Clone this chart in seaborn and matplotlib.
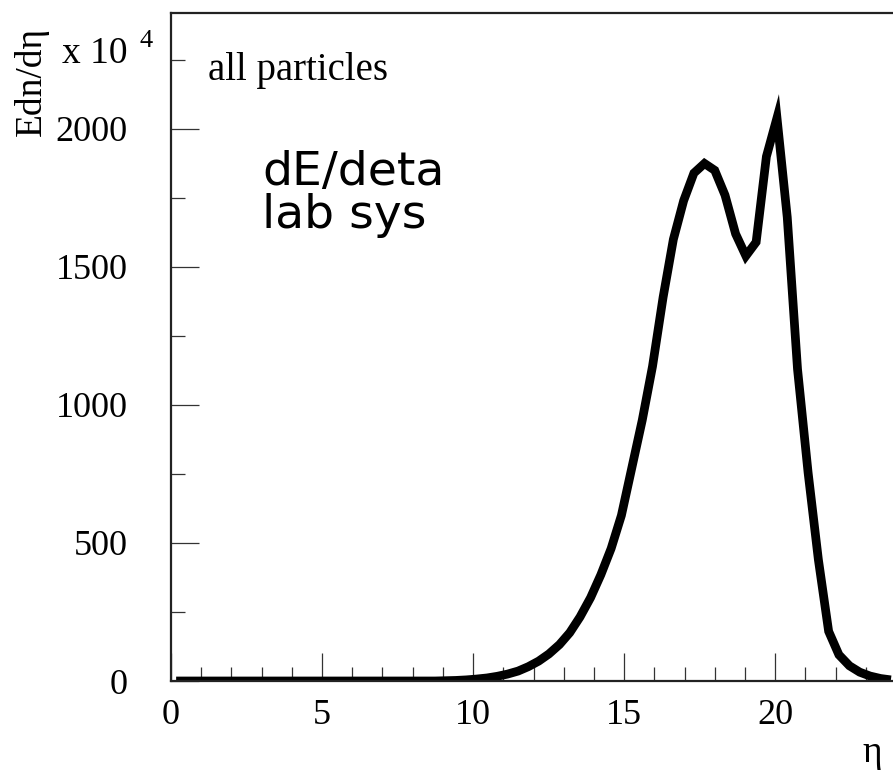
import numpy as np
import pandas as pd
import matplotlib
matplotlib.use("Agg")
import matplotlib.pyplot as plt
import seaborn as sns

# Energy-weighted pseudorapidity distribution, all particles (values in units of 10^4)
eta = [0.17, 8.74, 9.09, 9.43, 9.77, 10.11, 10.46, 10.80, 11.14, 11.49, 11.83,
       12.17, 12.51, 12.86, 13.20, 13.54, 13.89, 14.23, 14.57, 14.91, 15.26,
       15.60, 15.94, 16.29, 16.63, 16.97, 17.31, 17.66, 18.00, 18.34, 18.69,
       19.03, 19.37, 19.71, 20.06, 20.40, 20.74, 21.09, 21.43, 21.77, 22.11,
       22.46, 22.80, 23.14, 23.49, 23.83]
edn_deta = [0, 0, 1, 2, 4, 7, 11, 17, 25, 36, 52,
            72, 98, 132, 175, 232, 302, 385, 480, 600, 775,
            945, 1140, 1390, 1600, 1740, 1840, 1875, 1850, 1760, 1620,
            1540, 1590, 1900, 2040, 1680, 1130, 755, 440, 180, 95,
            55, 32, 18, 9, 4]

x_major = [0, 5, 10, 15, 20]
y_major = [0, 500, 1000, 1500, 2000]

df = pd.DataFrame({"eta": eta, "Edn": edn_deta})

sns.set_style("ticks")
plt.rcParams["font.family"] = ["Liberation Serif", "DejaVu Serif"]
plt.rcParams["text.color"] = "black"

W, H = 893, 775
fig = plt.figure(figsize=(W / 100, H / 100), dpi=100)
ax = fig.add_axes([171 / W, 94 / H, (896 - 171) / W, (681 - 13) / H])

sns.lineplot(data=df, x="eta", y="Edn", ax=ax, color="black", linewidth=6.3,
             solid_joinstyle="miter", solid_capstyle="butt", zorder=2)

ax.set_xlim(0, 24)
ax.set_ylim(0, 2420)
ax.set_xticks(x_major)
ax.set_xticks(np.arange(0, 25, 1), minor=True)
ax.set_yticks(y_major)
ax.set_yticks(np.arange(0, 2420, 250), minor=True)
ax.set_xticklabels([str(v) for v in x_major])
ax.set_yticklabels([str(v) for v in y_major])
ax.set_xlabel("")
ax.set_ylabel("")

ax.tick_params(axis="both", which="both", direction="in", color="#333333",
               width=0.9, labelsize=26, labelcolor="black")
ax.tick_params(axis="both", which="major", length=20)
ax.tick_params(axis="both", which="minor", length=10)
ax.tick_params(axis="y", which="major", pad=31)
ax.tick_params(axis="x", which="major", pad=13)
ax.tick_params(top=False, right=False, which="both")

for side in ["left", "bottom", "top"]:
    ax.spines[side].set_visible(True)
    ax.spines[side].set_linewidth(1.6)
    ax.spines[side].set_color("#222222")
    ax.spines[side].set_zorder(3)
ax.spines["right"].set_visible(False)


def fpos(x, y):
    return x / W, 1 - y / H


fig.text(*fpos(31, 27), "Edn/d\u03b7", rotation=90, ha="center", va="top", fontsize=27)
fig.text(*fpos(62, 63), "x 10", ha="left", va="baseline", fontsize=27)
fig.text(*fpos(140, 47), "4", ha="left", va="baseline", fontsize=19)
fig.text(*fpos(208, 80), "all particles", ha="left", va="baseline", fontsize=28)
fig.text(*fpos(262, 185), "dE/deta", ha="left", va="baseline", fontsize=34,
         family="DejaVu Sans")
fig.text(*fpos(262, 228), "lab sys", ha="left", va="baseline", fontsize=34,
         family="DejaVu Sans")
fig.text(*fpos(872, 762), "\u03b7", ha="center", va="baseline", fontsize=27)

fig.savefig("out.png", dpi=100)
